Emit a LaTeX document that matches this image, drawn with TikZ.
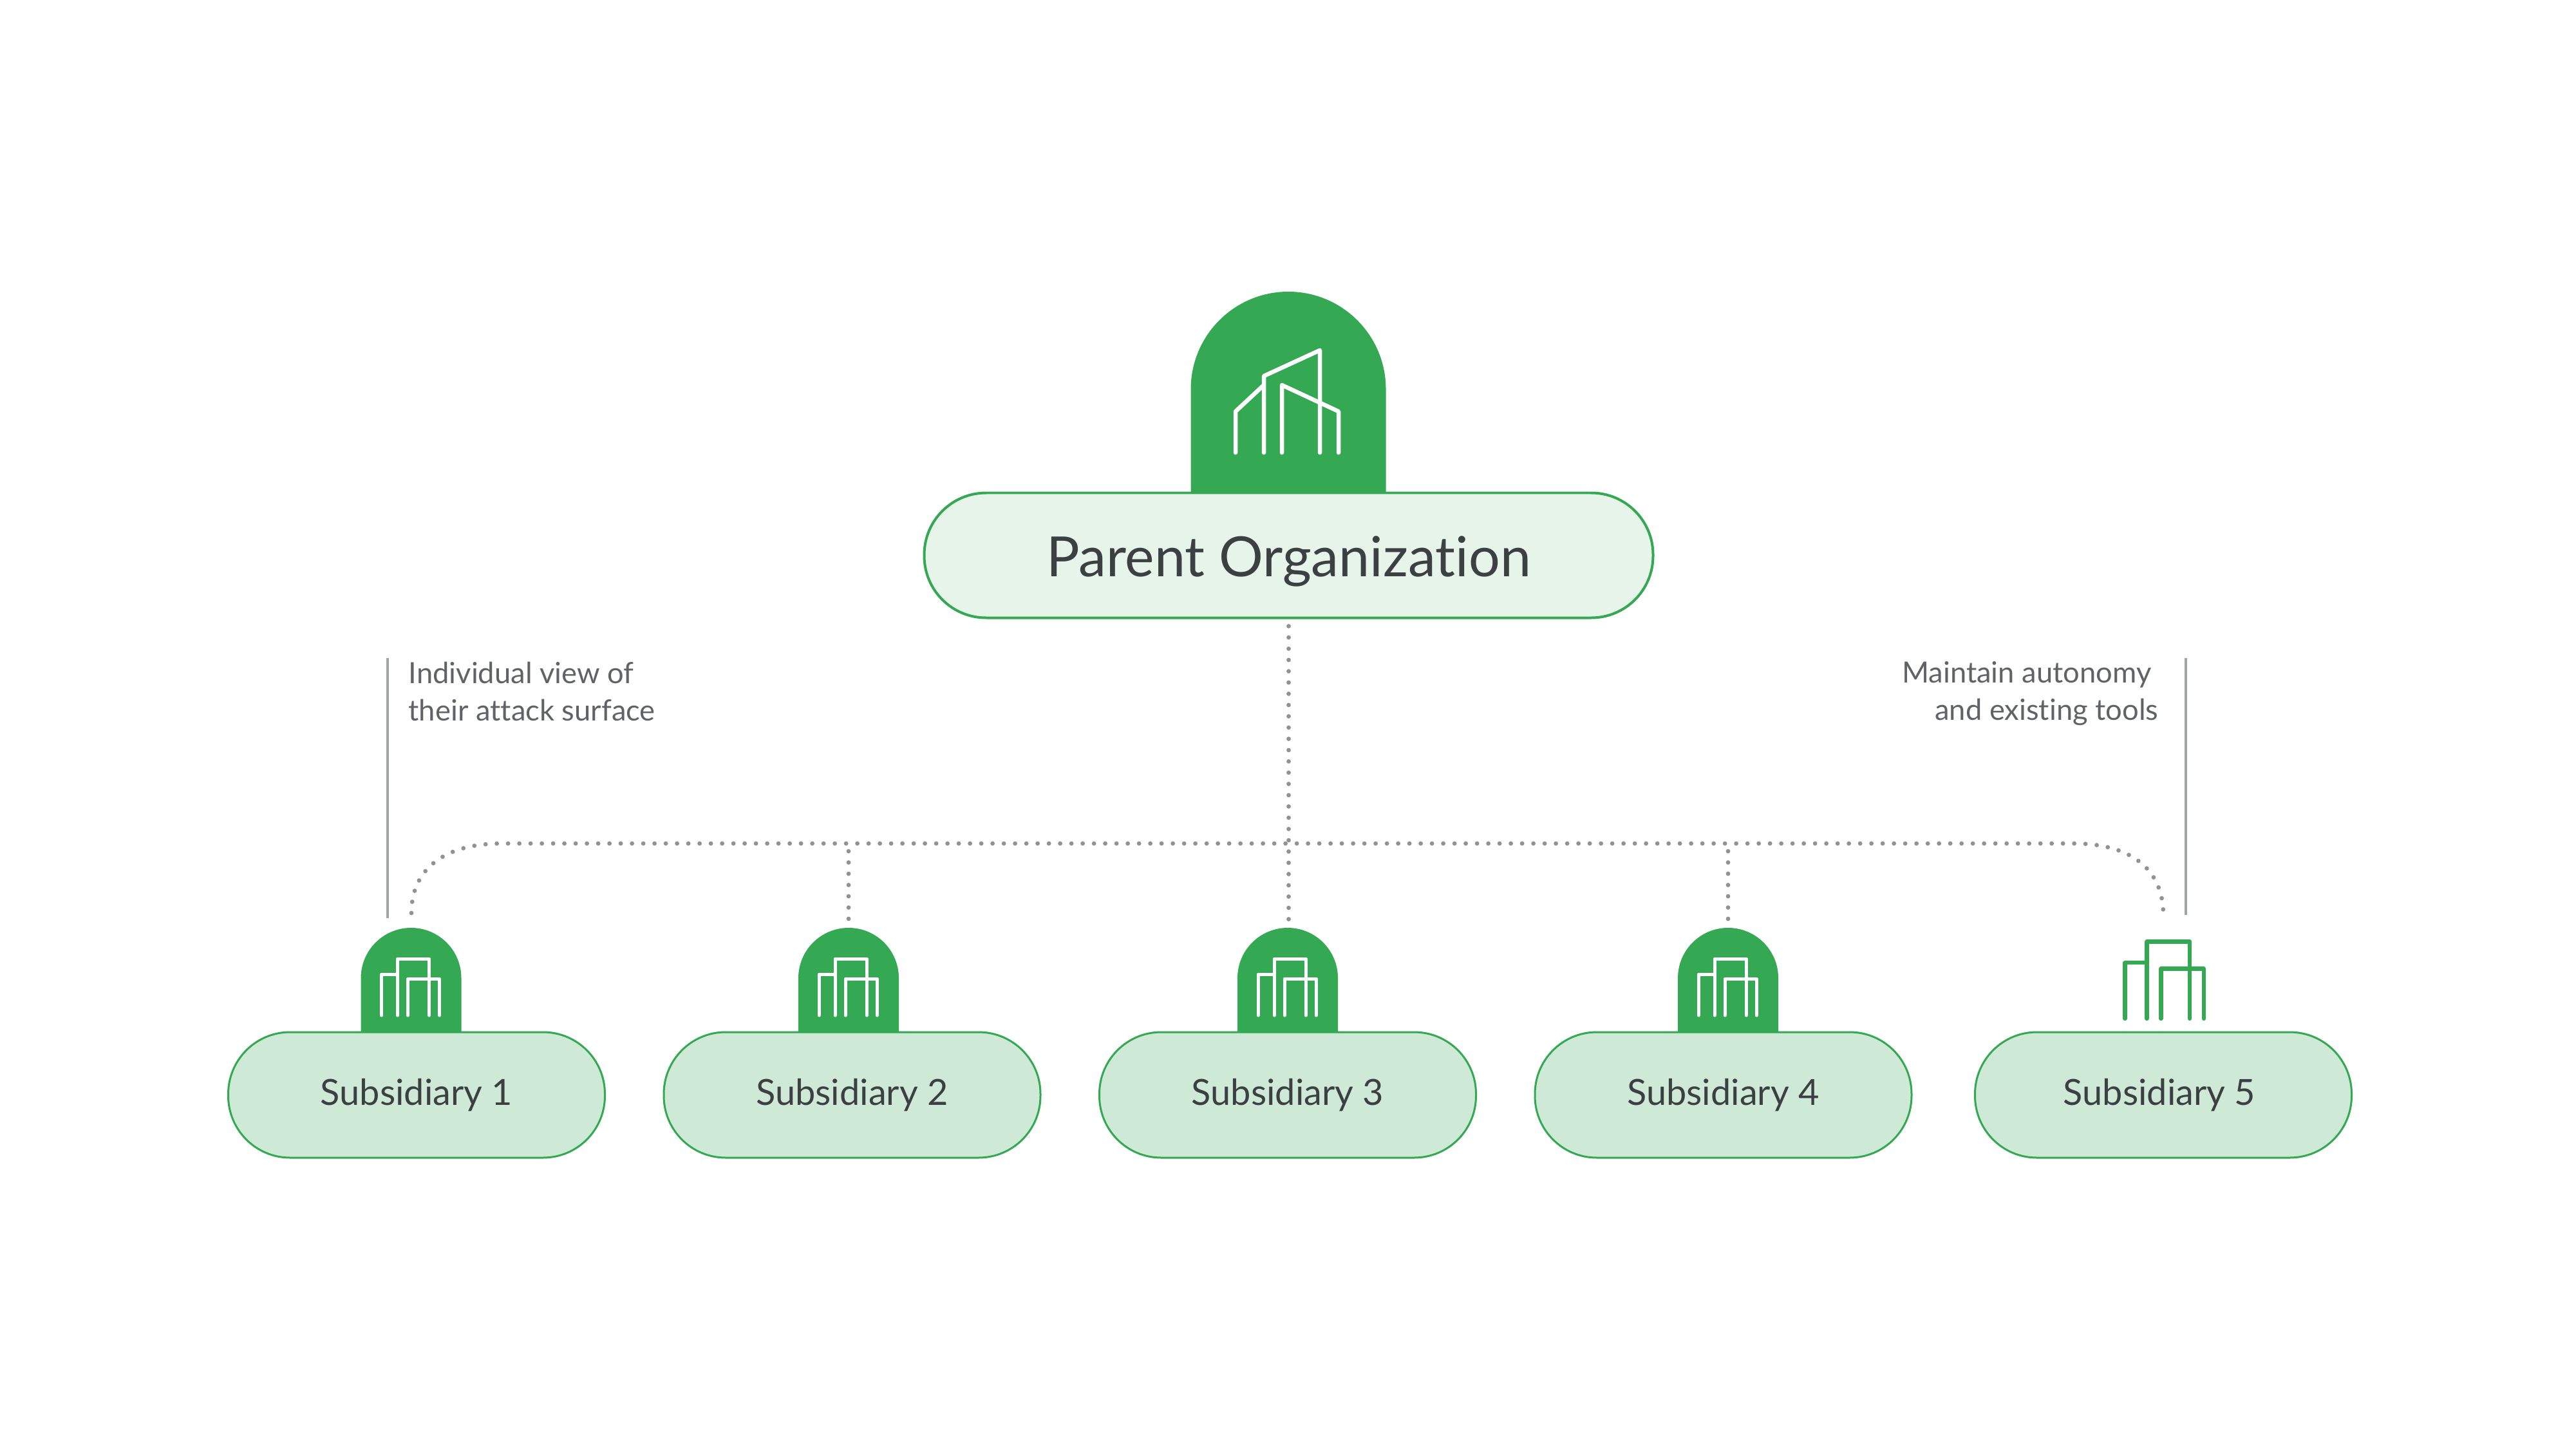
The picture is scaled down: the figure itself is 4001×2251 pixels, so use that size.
\documentclass[tikz,border=0pt]{standalone}
\usepackage{fontspec}
\setmainfont{Lato}[Ligatures=NoCommon]
\usetikzlibrary{arrows.meta, positioning}
\definecolor{leaf}{HTML}{34A853}
\definecolor{parentfill}{HTML}{E6F4EA}
\definecolor{subfill}{HTML}{CEEAD6}
\definecolor{inkdark}{HTML}{3C4043}
\definecolor{inknote}{HTML}{5F6368}
\definecolor{linkgray}{HTML}{909296}
\definecolor{notegray}{HTML}{A0A3A7}
\begin{document}
\begin{tikzpicture}[x=0.1mm, y=0.1mm, node distance=0.885cm,
    parentbox/.style={draw=leaf, line width=0.04cm, rounded corners=0.96cm, fill=parentfill, text=inkdark,
      minimum width=11.32cm, minimum height=1.94cm, text height=0.9cm, text depth=0.23cm, font=\fontsize{24.5}{30}\selectfont},
    subbox/.style={draw=leaf, line width=0.03cm, rounded corners=0.96cm, fill=subfill, text=inkdark,
      minimum width=5.85cm, minimum height=1.95cm, text height=0.5cm, text depth=0.19cm, font=\fontsize{15.9}{20}\selectfont},
    notetext/.style={text=inknote, inner sep=0pt, font=\fontsize{12.9}{16.5}\selectfont},
    dotlink/.style={linkgray, line width=0.068cm, line cap=round, dash pattern=on 0pt off 0.175cm},
    noteline/.style={notegray, line width=0.04cm},
    towerline/.style={line width=0.05cm, line join=round, line cap=round},
    pics/archsmall/.style={code={
      \fill[leaf] (-78,-2) -- (-78,84) arc[start angle=180, end angle=0, radius=78] -- (78,-2) -- cycle;
      \coordinate (-top) at (0,162);
    }},
    pics/archbig/.style={code={
      \fill[leaf] (-151.5,-2) -- (-151.5,160.5) arc[start angle=180, end angle=0, radius=151.5] -- (151.5,-2) -- cycle;
      \coordinate (-top) at (0,312);
    }},
    pics/towers/.style={code={
      \draw[towerline, #1] (-46,0) -- (-46,64) -- (-21,64);
      \draw[towerline, #1] (-21,0) -- (-21,88) -- (28,88) -- (28,0);
      \draw[towerline, #1] (-5,0) -- (-5,57) -- (44,57) -- (44,0);
    }},
    pics/skyline/.style={code={
      \draw[towerline, white, line width=0.065cm] (-82,0) -- (-82,64) -- (-38,105);
      \draw[towerline, white, line width=0.065cm] (-38,0) -- (-38,119) -- (49,159) -- (49,0);
      \draw[towerline, white, line width=0.065cm] (-10,0) -- (-10,105) -- (78,64) -- (78,0);
    }}]
  \useasboundingbox (0,0) rectangle (4001,2251);
  % arches sit behind the boxes
  \pic (archtop) at (2001,1486) {archbig};
  \pic (arch1) at (638.5,648) {archsmall};
  \pic (arch2) at (1318,648) {archsmall};
  \pic (arch3) at (2000,648) {archsmall};
  \pic (arch4) at (2684,648) {archsmall};
  \pic at (2001,1548) {skyline};
  \pic at (638.5,674) {towers=white};
  \pic at (1318,674) {towers=white};
  \pic at (2000,674) {towers=white};
  \pic at (2684,674) {towers=white};
  \pic[scale=1.36] at (3363,669) {towers={leaf, line width=0.065cm}};
  % boxes
  \node[parentbox] (parent) at (2001.5,1388.5) {Parent Organization};
  \node[subbox] (sub1) at (647,550.5) {Subsidiary 1};
  \node[subbox, right=of sub1] (sub2) {Subsidiary 2};
  \node[subbox, right=of sub2] (sub3) {Subsidiary 3};
  \node[subbox, right=of sub3] (sub4) {Subsidiary 4};
  \node[subbox, right=0.955cm of sub4] (sub5) {Subsidiary 5\rule{0.12cm}{0pt}};
  % dotted links
  \coordinate (bus) at (2001,941);
  \coordinate (busleft) at (780,941);
  \coordinate (busright) at (3220,941);
  \coordinate (dropone) at (639,833);
  \coordinate (dropfive) at (3360,830);
  \draw[dotlink, shorten <=0.11cm, shorten >=0.1cm] (parent.south) -- (parent.south |- arch3-top);
  \draw[dotlink] (dropone) .. controls (639,901) and (690,941) .. (busleft) -- (busright)
    .. controls (3310,941) and (3360,901) .. (dropfive);
  \draw[dotlink, shorten <=0.12cm, shorten >=0.1cm] (arch2-top |- bus) -- (arch2-top);
  \draw[dotlink, shorten <=0.12cm, shorten >=0.1cm] (arch4-top |- bus) -- (arch4-top);
  % side notes
  \coordinate (noteonetop) at (602,1229);
  \coordinate (noteonebot) at (602,825);
  \coordinate (notefivetop) at (3395,1229);
  \coordinate (notefivebot) at (3395,830);
  \draw[noteline] (noteonetop) -- (noteonebot);
  \draw[noteline] (notefivetop) -- (notefivebot);
  \node[notetext, align=left, anchor=north west] (noteone) at (634,1224) {Individual view of\\their attack surface};
  \node[notetext, align=right, anchor=north east] (notefive) at (3353,1224) {Maintain autonomy\rule{0.11cm}{0pt}\\and existing tools};
\end{tikzpicture}
\end{document}
